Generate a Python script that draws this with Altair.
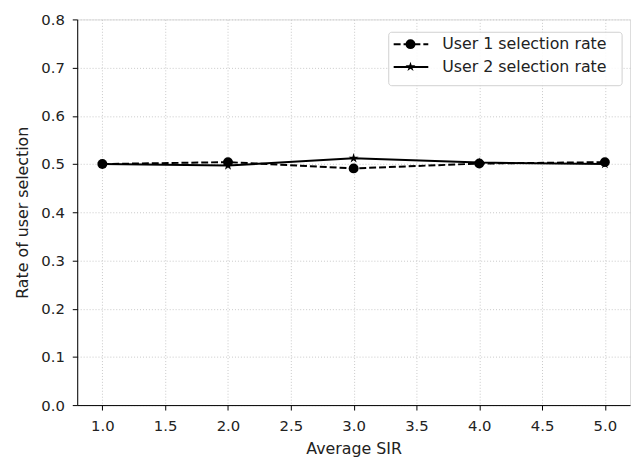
import altair as alt
import pandas as pd

sir = [1.0, 2.0, 3.0, 4.0, 5.0]
user1 = [0.500, 0.504, 0.491, 0.501, 0.504]
user2 = [0.500, 0.497, 0.512, 0.503, 0.500]
x_ticks = [1.0, 1.5, 2.0, 2.5, 3.0, 3.5, 4.0, 4.5, 5.0]
y_ticks = [0.0, 0.1, 0.2, 0.3, 0.4, 0.5, 0.6, 0.7, 0.8]
labels = ["User 1 selection rate", "User 2 selection rate"]

STAR = "M0,-1L0.2245,-0.309L0.951,-0.309L0.363,0.118L0.588,0.809L0,0.382L-0.588,0.809L-0.363,0.118L-0.951,-0.309L-0.2245,-0.309Z"

df1 = pd.DataFrame({"sir": sir, "rate": user1})
df2 = pd.DataFrame({"sir": sir, "rate": user2})

FONT = "DejaVu Sans"
TXT = "#222222"

xs = alt.Scale(domain=[0.8, 5.2], nice=False, zero=False)
ys = alt.Scale(domain=[0.0, 0.8], nice=False, zero=False)

common = dict(grid=True, gridColor="#c8c8c8", gridDash=[1, 2], gridWidth=1,
              domainColor="black", tickColor="black", tickSize=5,
              labelColor=TXT, titleColor=TXT, labelFontSize=15,
              titleFontSize=16, labelFont=FONT, titleFont=FONT,
              titleFontWeight="normal")
xax = alt.Axis(values=x_ticks, format=".1f", title="Average SIR",
               labelPadding=9, titlePadding=7, **common)
yax = alt.Axis(values=y_ticks, format=".1f", title="Rate of user selection",
               labelPadding=8, titlePadding=10, **common)

x = alt.X("sir:Q", scale=xs, axis=xax)
y = alt.Y("rate:Q", scale=ys, axis=yax)

line1 = alt.Chart(df1).mark_line(color="black", strokeWidth=2, strokeDash=[7, 3]).encode(x=x, y=y)
pts1 = alt.Chart(df1).mark_point(color="black", filled=True, opacity=1, size=100, shape="circle").encode(x=x, y=y)
line2 = alt.Chart(df2).mark_line(color="black", strokeWidth=2).encode(x=x, y=y)
pts2 = alt.Chart(df2).mark_point(color="black", filled=True, opacity=1, size=110, shape=STAR).encode(x=x, y=y)

one = pd.DataFrame({"a": [0]})
box = alt.Chart(one).mark_rect(fill="white", stroke="#cccccc", strokeWidth=1, cornerRadius=3, opacity=0.9).encode(
    x=alt.value(315), x2=alt.value(551), y=alt.value(13), y2=alt.value(67))
leg_l1 = alt.Chart(one).mark_rule(color="black", strokeWidth=2, strokeDash=[7, 3]).encode(
    x=alt.value(320), x2=alt.value(355), y=alt.value(25))
leg_p1 = alt.Chart(one).mark_point(color="black", filled=True, opacity=1, size=100, shape="circle").encode(
    x=alt.value(337), y=alt.value(25))
leg_l2 = alt.Chart(one).mark_rule(color="black", strokeWidth=2).encode(
    x=alt.value(320), x2=alt.value(355), y=alt.value(48))
leg_p2 = alt.Chart(one).mark_point(color="black", filled=True, opacity=1, size=110, shape=STAR).encode(
    x=alt.value(337), y=alt.value(48))
leg_t1 = alt.Chart(one).mark_text(align="left", baseline="middle", fontSize=16, font=FONT, color=TXT).encode(
    x=alt.value(369), y=alt.value(25), text=alt.value(labels[0]))
leg_t2 = alt.Chart(one).mark_text(align="left", baseline="middle", fontSize=16, font=FONT, color=TXT).encode(
    x=alt.value(369), y=alt.value(48), text=alt.value(labels[1]))

chart = alt.layer(line1, pts1, line2, pts2, box, leg_l1, leg_p1, leg_l2, leg_p2, leg_t1, leg_t2).properties(
    width=559, height=390,
    padding={"left": 70, "top": 9, "right": 2, "bottom": 56},
    autosize="none",
).configure_view(stroke="black", strokeWidth=1).configure(background="white")

chart.save("out.html", embed_options={"renderer": "svg", "actions": False})
